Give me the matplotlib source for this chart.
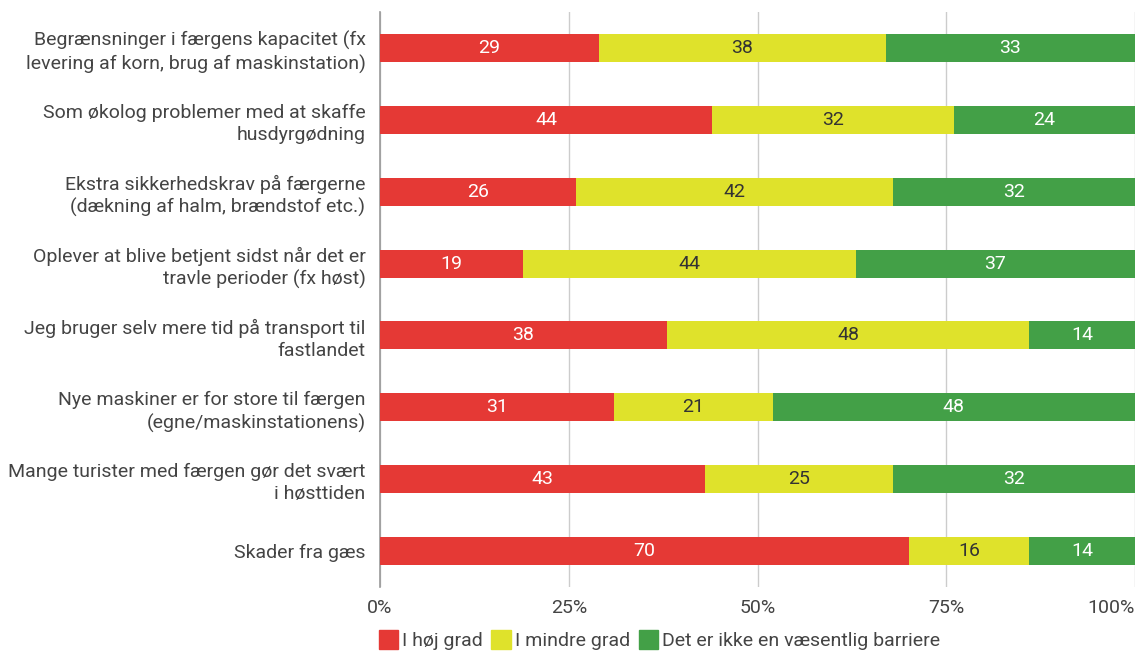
import numpy as np
import matplotlib.pyplot as plt
from matplotlib.patches import Patch

plt.rcParams['font.family'] = ['Roboto', 'DejaVu Sans']

categories = [
    "Begrænsninger i færgens kapacitet (fx\nlevering af korn, brug af maskinstation)",
    "Som økolog problemer med at skaffe\nhusdyrgødning",
    "Ekstra sikkerhedskrav på færgerne\n(dækning af halm, brændstof etc.)",
    "Oplever at blive betjent sidst når det er\ntravle perioder (fx høst)",
    "Jeg bruger selv mere tid på transport til\nfastlandet",
    "Nye maskiner er for store til færgen\n(egne/maskinstationens)",
    "Mange turister med færgen gør det svært\ni høsttiden",
    "Skader fra gæs",
]
hoej = [29, 44, 26, 19, 38, 31, 43, 70]
mindre = [38, 32, 42, 44, 48, 21, 25, 16]
ikke = [33, 24, 32, 37, 14, 48, 32, 14]

series_names = ["I høj grad", "I mindre grad", "Det er ikke en væsentlig barriere"]
colors = ["#e53935", "#dfe22b", "#43a047"]
text_colors = ["white", "#333333", "white"]
xticks = [0, 25, 50, 75, 100]

fig = plt.figure(figsize=(11.38, 6.52), dpi=100)
ax = fig.add_axes([380 / 1138, 1 - 587 / 652, 755 / 1138, 575 / 652])

y = np.arange(len(categories))
left = np.zeros(len(categories))
for vals, col, tcol in zip([hoej, mindre, ikke], colors, text_colors):
    vals = np.array(vals, dtype=float)
    ax.barh(y, vals, left=left, height=0.39, color=col, zorder=3)
    for yi, l, v in zip(y, left, vals):
        ax.text(l + v / 2, yi, f"{int(v)}", ha="center", va="center",
                color=tcol, fontsize=14, zorder=4)
    left += vals

ax.set_xlim(0, 100)
ax.set_ylim(len(categories) - 0.5, -0.5)
ax.set_yticks(y)
ax.set_yticklabels(categories, fontsize=14, color="#444444", linespacing=1.3)
ax.set_xticks(xticks)
ax.set_xticklabels([f"{t}%" for t in xticks], fontsize=14, color="#444444")
ax.get_xticklabels()[-1].set_horizontalalignment("right")
ax.tick_params(axis="y", length=0, pad=10.5)
ax.tick_params(axis="x", length=0, pad=8.5)
ax.grid(axis="x", color="#cccccc", linewidth=1, zorder=0)
for s in ["top", "right", "bottom"]:
    ax.spines[s].set_visible(False)
ax.spines["left"].set_color("#999999")
ax.spines["left"].set_linewidth(1.2)

handles = [Patch(facecolor=c, edgecolor=c, label=n) for c, n in zip(colors, series_names)]
fig.legend(handles=handles, loc="center left", bbox_to_anchor=(365 / 1138, 1 - 640 / 652),
           ncol=3, frameon=False, fontsize=14, handlelength=1.0, handleheight=1.1,
           handletextpad=0.2, columnspacing=0.45, labelcolor="#444444",
           borderpad=0.2)

fig.savefig("out.png", dpi=100)
